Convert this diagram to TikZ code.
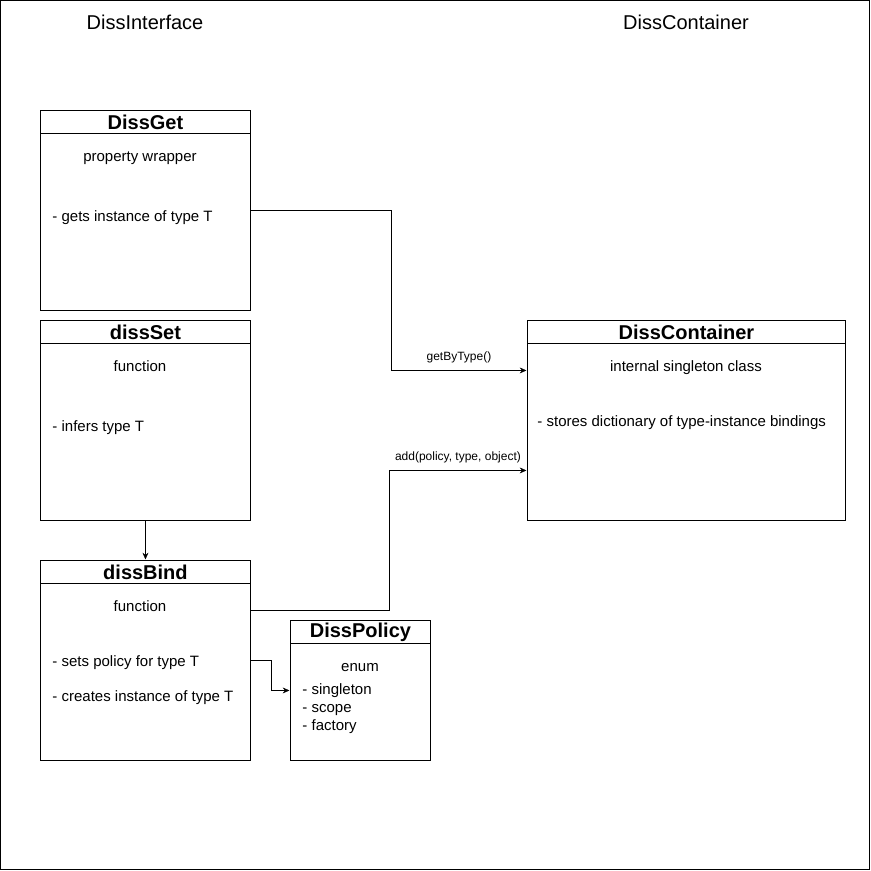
\documentclass[tikz,border=0pt]{standalone}
\usepackage{fontspec}
\setmainfont{Liberation Sans}
\usetikzlibrary{arrows.meta}
\usetikzlibrary{positioning}

\begin{document}
\begin{tikzpicture}[x=1pt,y=-1pt]
        \tikzset{
          >={Stealth[length=8pt,width=7pt]},
          line width=0.9pt,
          classbox/.style={
            draw,
            anchor=north west,
            minimum width=210,
            minimum height=200,
            inner sep=0pt,
          },
          classhead/.style={
            draw,
            anchor=north,
            minimum height=23,
            inner sep=0pt,
            font=\fontsize{20}{22}\selectfont\bfseries,
          },
          bodytext/.style={
            inner sep=0pt,
            text height=11pt,
            text depth=3pt,
            font=\fontsize{15}{17}\selectfont,
          },
          lanetitle/.style={
            inner sep=0pt,
            font=\fontsize{20}{22}\selectfont,
          },
          edgetext/.style={
            inner sep=7pt,
            font=\fontsize{12}{14}\selectfont,
          },
        }
        \useasboundingbox (0,0) rectangle (871,871);
        \draw (0.5,0.5) rectangle (869.5,869.5);

        % lane titles
        \node[lanetitle] (ifc) at (145,22) {DissInterface};
        \node[lanetitle] (ctr) at (686,22) {DissContainer};

        % interface side
        \node[classbox] (get) at (40,110) {};
        \node[classhead, minimum width=210] (getH) at (get.north) {DissGet};
        \node[bodytext] at (140,157) {property wrapper};
        \node[bodytext, anchor=west] at (52,217) {- gets instance of type T};

        \node[classbox] (set) at (40,320) {};
        \node[classhead, minimum width=210] (setH) at (set.north) {dissSet};
        \node[bodytext] at (140,367) {function};
        \node[bodytext, anchor=west] at (52,427) {- infers type T};

        \node[classbox] (bind) at (40,560) {};
        \node[classhead, minimum width=210] (bindH) at (bind.north) {dissBind};
        \node[bodytext] at (140,607) {function};
        \node[bodytext, anchor=west] at (52,662) {- sets policy for type T};
        \node[bodytext, anchor=west] at (52,697) {- creates instance of type T};

        \node[classbox, minimum width=140, minimum height=140] (pol) at (290,620) {};
        \node[classhead, minimum width=140] (polH) at (pol.north) {DissPolicy};
        \node[bodytext] at (360,667) {enum};
        \node[bodytext, anchor=west] at (302,690) {- singleton};
        \node[bodytext, anchor=west] at (302,708) {- scope};
        \node[bodytext, anchor=west] at (302,726) {- factory};

        % container side
        \node[classbox, minimum width=318] (cont) at (527,320) {};
        \node[classhead, minimum width=318] (contH) at (cont.north) {DissContainer};
        \node[bodytext] at (686,367) {internal singleton class};
        \node[bodytext, anchor=west] at (537,422) {- stores dictionary of type-instance bindings};

        % connectors
        \draw[->] (get.east) -- ++(140,0)
          |- node[edgetext, pos=0.75, above] {getByType()} ([yshift=50pt]cont.west);
        \draw[->] ([yshift=50pt]bind.east) -- ++(138,0)
          |- node[edgetext, pos=0.75, above] {add(policy, type, object)} ([yshift=-50pt]cont.west);
        \draw[->] (set.south) -- (bind.north);
        \draw[->] (bind.east) -- ++(20,0) |- (pol.west);
      \end{tikzpicture}
\end{document}
